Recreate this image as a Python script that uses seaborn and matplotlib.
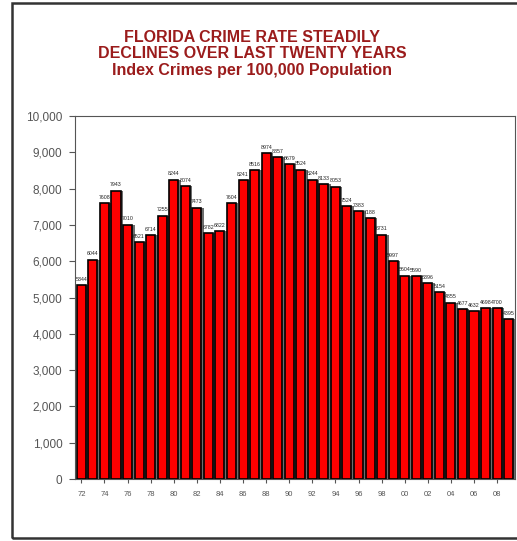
import matplotlib
matplotlib.use("Agg")
import matplotlib.pyplot as plt
import matplotlib.transforms as mtransforms
from matplotlib.patches import Rectangle
from matplotlib.ticker import FuncFormatter, MultipleLocator
import seaborn as sns
import pandas as pd

years = list(range(1972, 2010))
crime_rate = [5344, 6044, 7608, 7943, 7010, 6521, 6714, 7255, 8244, 8074,
              7473, 6782, 6822, 7604, 8241, 8516, 8974, 8857, 8679, 8524,
              8244, 8133, 8053, 7524, 7383, 7188, 6731, 5997, 5604, 5590,
              5396, 5154, 4855, 4677, 4632, 4698, 4700, 4395]
title_lines = ["FLORIDA CRIME RATE STEADILY",
               "DECLINES OVER LAST TWENTY YEARS",
               "Index Crimes per 100,000 Population"]

df = pd.DataFrame({"year": [str(y) for y in years], "rate": crime_rate})

sns.set_theme(style="white")
plt.rcParams["font.family"] = ["Liberation Sans", "DejaVu Sans"]

fig = plt.figure(figsize=(5.17, 5.41), dpi=100)
ax = fig.add_axes([75 / 517, 62 / 541, 440 / 517, 363 / 541])

# drop shadow behind each bar
sns.barplot(data=df, x="year", y="rate", color="#6e6e6e", saturation=1,
            width=0.78, edgecolor="none", ax=ax)
shift = mtransforms.ScaledTranslation(2.5 / 100, 0, fig.dpi_scale_trans)
for p in ax.patches:
    p.set_transform(ax.transData + shift)
    p.set_clip_on(True)
n_shadow = len(ax.patches)

sns.barplot(data=df, x="year", y="rate", color="#ff0000", saturation=1,
            width=0.78, edgecolor="black", linewidth=1.2, ax=ax)
for p in ax.patches[n_shadow:]:
    p.set_zorder(3)

for i, v in enumerate(crime_rate):
    ax.text(i, v + 90, f"{v}", ha="center", va="bottom", fontsize=3.8,
            color="#222222", zorder=4)

ax.set_xlim(-0.55, len(years) - 0.45)
ax.set_ylim(0, 10000)
ax.yaxis.set_major_locator(MultipleLocator(1000))
ax.yaxis.set_major_formatter(FuncFormatter(lambda v, _: f"{int(v):,}"))
ax.set_xticks(range(0, len(years), 2))
ax.set_xticklabels([f"{y % 100:02d}" for y in years[::2]])
ax.set_xlabel("")
ax.set_ylabel("")
ax.tick_params(axis="y", labelsize=8.5, colors="#555555", length=4, width=0.8,
               direction="out", left=True, pad=5)
ax.tick_params(axis="x", labelsize=5.5, colors="#555555", length=3, width=0.8,
               direction="out", bottom=True, pad=6)
for s in ax.spines.values():
    s.set_color("#555555")
    s.set_linewidth(0.8)

for k, line in enumerate(title_lines):
    fig.text(252 / 517, 1 - (38 + 16 * k) / 541, line, ha="center", va="center",
             fontsize=11.5, fontweight="bold", color="#9b1c1c")

# outer frame around the whole figure
fig.patches.append(Rectangle((12 / 517, 3 / 541), 520 / 517, 535 / 541,
                             transform=fig.transFigure, fill=False,
                             edgecolor="#333333", linewidth=1.8))

fig.savefig("out.png", dpi=100)
